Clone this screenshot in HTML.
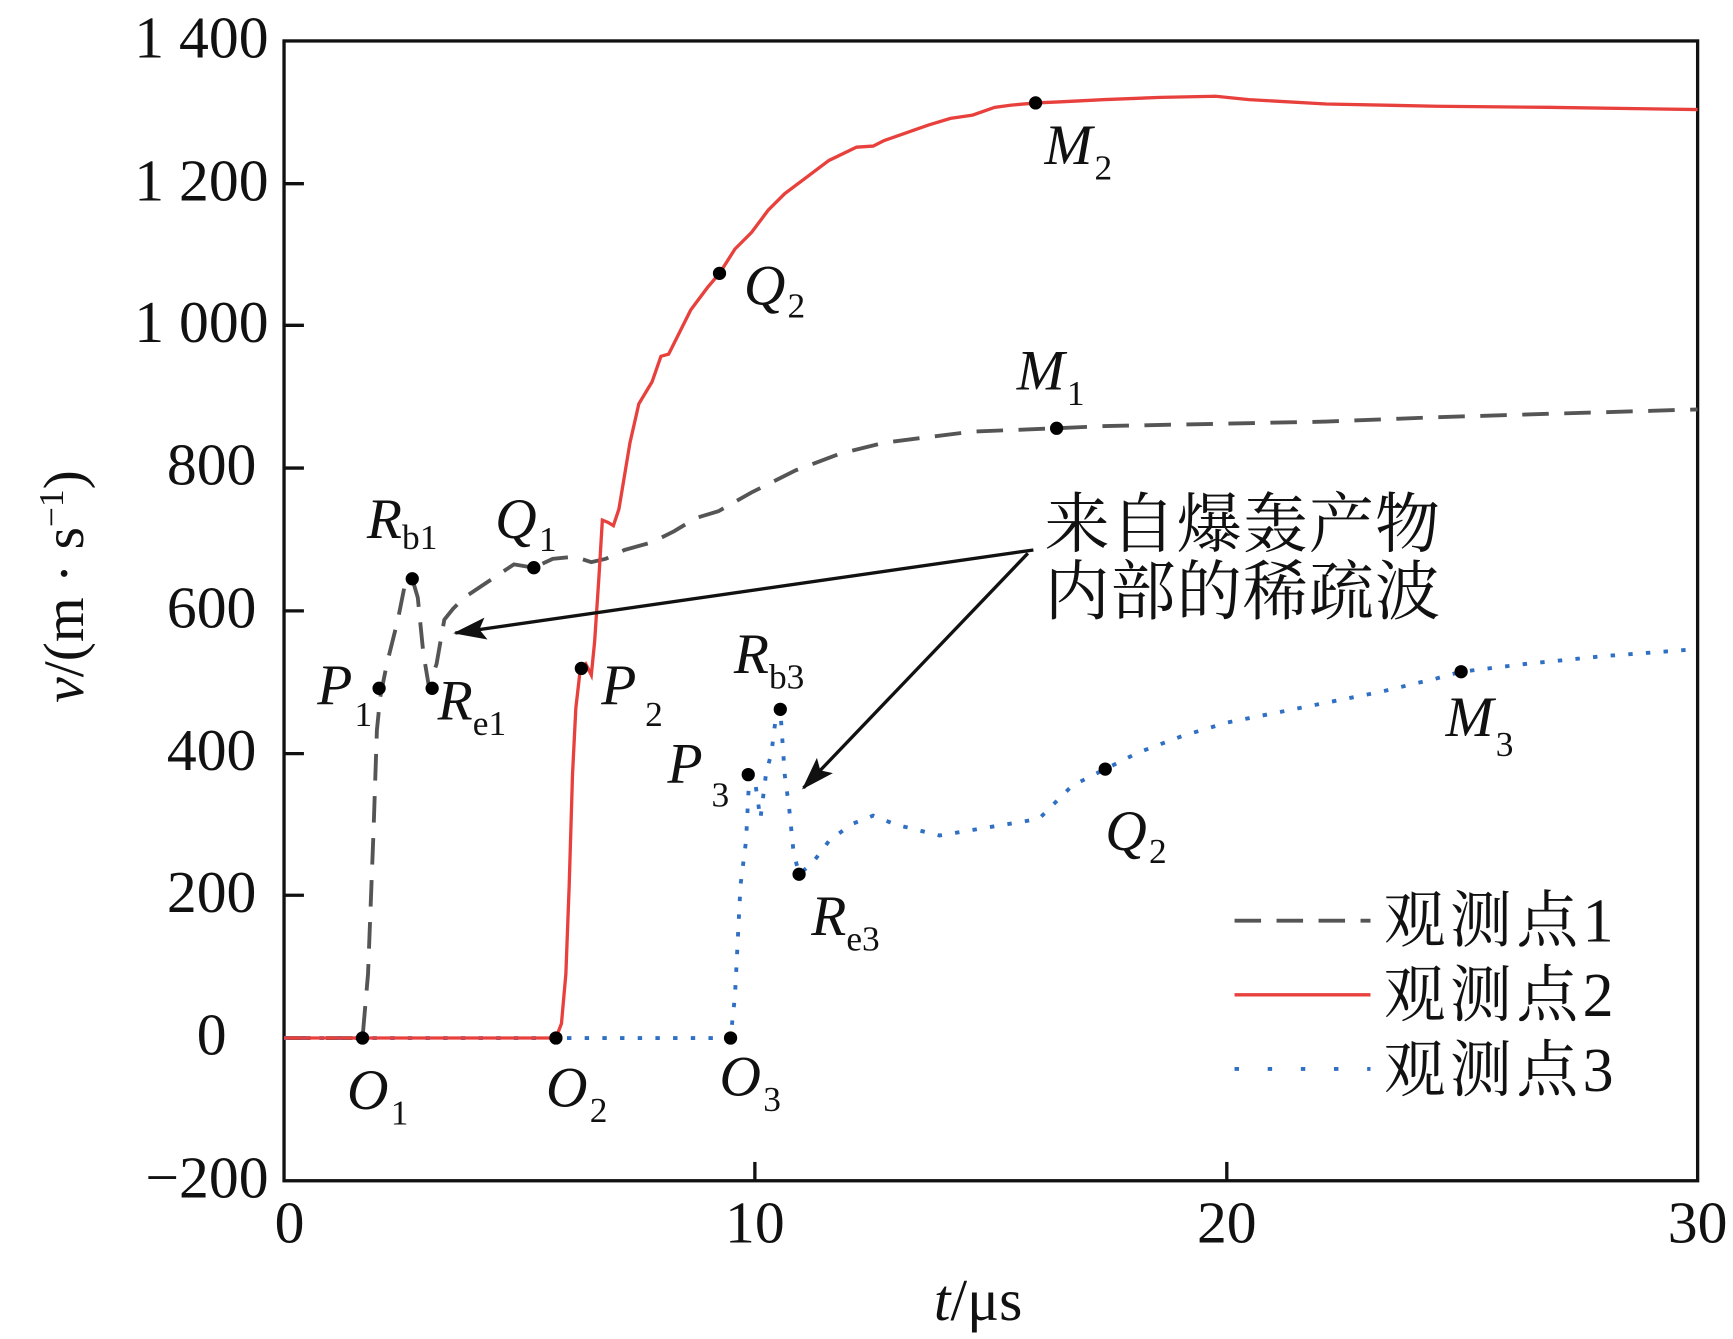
<!DOCTYPE html>
<html><head><meta charset="utf-8"><style>html,body{margin:0;padding:0;background:#fff}svg{display:block}
text{font-family:"Liberation Serif","Noto Serif CJK SC",serif}</style></head>
<body>
<svg width="1733" height="1339" viewBox="0 0 1568 1210" preserveAspectRatio="none" xmlns="http://www.w3.org/2000/svg">
<defs>
<marker id="ah2" viewBox="0 0 30 20" markerWidth="30" markerHeight="20" refX="28" refY="10" orient="auto" markerUnits="userSpaceOnUse"><path d="M0,0 L30,10 L0,20 L6,10 z" fill="#111"/></marker></defs>
<rect x="257" y="37" width="1279" height="1030" fill="none" stroke="#111" stroke-width="3"/>
<g stroke="#111" stroke-width="3">
<line x1="257" y1="166" x2="275" y2="166"/><line x1="257" y1="294" x2="275" y2="294"/><line x1="257" y1="423" x2="275" y2="423"/><line x1="257" y1="552" x2="275" y2="552"/><line x1="257" y1="681" x2="275" y2="681"/><line x1="257" y1="809" x2="275" y2="809"/><line x1="257" y1="938" x2="275" y2="938"/>
<line x1="683" y1="1067" x2="683" y2="1050"/><line x1="1110" y1="1067" x2="1110" y2="1050"/>
</g>
<g font-size="54" fill="#111" text-anchor="end">
<text x="243" y="52">1 400</text><text x="243" y="181">1 200</text><text x="243" y="309">1 000</text><text x="232" y="438">800</text><text x="232" y="567">600</text><text x="232" y="696">400</text><text x="232" y="824">200</text><text x="205" y="953">0</text><text x="243" y="1082">−200</text>
</g>
<g font-size="54" fill="#111" text-anchor="middle">
<text x="262" y="1123">0</text><text x="683" y="1123">10</text><text x="1110" y="1123">20</text><text x="1536" y="1123">30</text>
<text x="885" y="1193"><tspan font-style="italic">t</tspan>/μs</text>
</g>
<text transform="translate(75,530) rotate(-90)" font-size="52" text-anchor="middle" fill="#111"><tspan font-style="italic">v</tspan>/(m · s<tspan font-size="32" dy="-18">−1</tspan><tspan dy="18">)</tspan></text>
<polyline fill="none" stroke="#555" stroke-width="3.5" stroke-dasharray="24,14" points="257,938 328,938 333,880 338,750 341,660 344,630 350,600 360,560 366,530 373,523 378,540 383,590 388,620 395,600 402,560 410,550 420,540 435,530 450,520 465,510 483,513 500,505 520,503 535,508 548,505 565,497 590,490 610,480 630,468 650,462 680,445 720,425 760,410 800,400 840,395 880,390 956,387 1000,385 1100,383 1200,381 1300,377 1400,374 1536,370"/>
<polyline fill="none" stroke="#2f6fc4" stroke-width="3.5" stroke-dasharray="4,12" points="257,938 661,938 665,900 670,800 675,760 678,700 683,705 688,740 693,700 698,680 703,640 706,641 710,700 714,730 718,770 723,790 735,780 750,760 770,745 790,737 810,745 830,750 850,755 880,750 910,745 940,740 955,725 970,710 1000,695 1030,680 1070,665 1110,653 1150,645 1200,635 1250,625 1300,613 1322,607 1380,600 1450,593 1530,587"/>
<polyline fill="none" stroke="#e8403c" stroke-width="3" points="257,938 503,938 508,925 512,880 515,800 518,700 521,640 525,605 530,600 535,610 538,580 542,520 545,470 550,472 555,475 560,460 565,430 570,400 578,365 590,345 598,322 605,320 615,300 625,280 640,260 651,247 665,225 680,210 695,190 710,175 730,160 750,145 775,133 790,132 800,127 820,120 840,113 860,107 880,104 900,97 915,95 937,93 960,92 1000,90 1050,88 1100,87 1130,90 1200,94 1300,96 1400,97 1536,99"/>
<g fill="#000">
<circle cx="328" cy="938" r="6"/><circle cx="503" cy="938" r="6"/><circle cx="661" cy="938" r="6"/>
<circle cx="343" cy="622" r="6"/><circle cx="373" cy="523" r="6"/><circle cx="391" cy="622" r="6"/><circle cx="483" cy="513" r="6"/>
<circle cx="526" cy="604" r="6"/><circle cx="651" cy="247" r="6"/><circle cx="937" cy="93" r="6"/><circle cx="956" cy="387" r="6"/>
<circle cx="677" cy="700" r="6"/><circle cx="706" cy="641" r="6"/><circle cx="723" cy="790" r="6"/><circle cx="1000" cy="695" r="6"/><circle cx="1322" cy="607" r="6"/>
</g>
<g font-size="52" fill="#111" font-style="italic">
<text x="314" y="1002">O<tspan font-style="normal" font-size="32" dx="2" dy="14">1</tspan></text>
<text x="494" y="1000">O<tspan font-style="normal" font-size="32" dx="2" dy="14">2</tspan></text>
<text x="651" y="990">O<tspan font-style="normal" font-size="32" dx="2" dy="14">3</tspan></text>
<text x="287" y="636">P<tspan font-style="normal" font-size="32" dx="2" dy="20">1</tspan></text>
<text x="332" y="486">R<tspan font-style="normal" font-size="32" dx="0" dy="10">b1</tspan></text>
<text x="396" y="650">R<tspan font-style="normal" font-size="32" dx="0" dy="14">e1</tspan></text>
<text x="448" y="486">Q<tspan font-style="normal" font-size="32" dx="2" dy="12">1</tspan></text>
<text x="544" y="636">P<tspan font-style="normal" font-size="32" dx="8" dy="20">2</tspan></text>
<text x="604" y="707">P<tspan font-style="normal" font-size="32" dx="8" dy="22">3</tspan></text>
<text x="664" y="608">R<tspan font-style="normal" font-size="32" dx="0" dy="14">b3</tspan></text>
<text x="734" y="845">R<tspan font-style="normal" font-size="32" dx="0" dy="14">e3</tspan></text>
<text x="673" y="275">Q<tspan font-style="normal" font-size="32" dx="2" dy="12">2</tspan></text>
<text x="1000" y="768">Q<tspan font-style="normal" font-size="32" dx="2" dy="12">2</tspan></text>
<text x="945" y="148">M<tspan font-style="normal" font-size="32" dx="2" dy="14">2</tspan></text>
<text x="920" y="352">M<tspan font-style="normal" font-size="32" dx="2" dy="14">1</tspan></text>
<text x="1308" y="665">M<tspan font-style="normal" font-size="32" dx="2" dy="18">3</tspan></text>
</g>
<g stroke="#111" stroke-width="3" fill="none">
<line x1="935" y1="497" x2="412" y2="572" marker-end="url(#ah2)"/>
<line x1="930" y1="500" x2="727" y2="712" marker-end="url(#ah2)"/>
</g>
<g font-size="59" fill="#111">
<text x="945" y="494" textLength="358">来自爆轰产物</text>
<text x="945" y="555" textLength="358">内部的稀疏波</text>
</g>
<line x1="1117" y1="832" x2="1240" y2="832" stroke="#555" stroke-width="3.5" stroke-dasharray="24,14"/>
<line x1="1117" y1="899" x2="1240" y2="899" stroke="#e8403c" stroke-width="3"/>
<line x1="1117" y1="966" x2="1240" y2="966" stroke="#2f6fc4" stroke-width="3.5" stroke-dasharray="4,26"/>
<g font-size="56" fill="#111">
<text x="1252" y="851" textLength="208">观测点1</text><text x="1252" y="918" textLength="208">观测点2</text><text x="1252" y="986" textLength="208">观测点3</text>
</g>
</svg>
</body></html>
